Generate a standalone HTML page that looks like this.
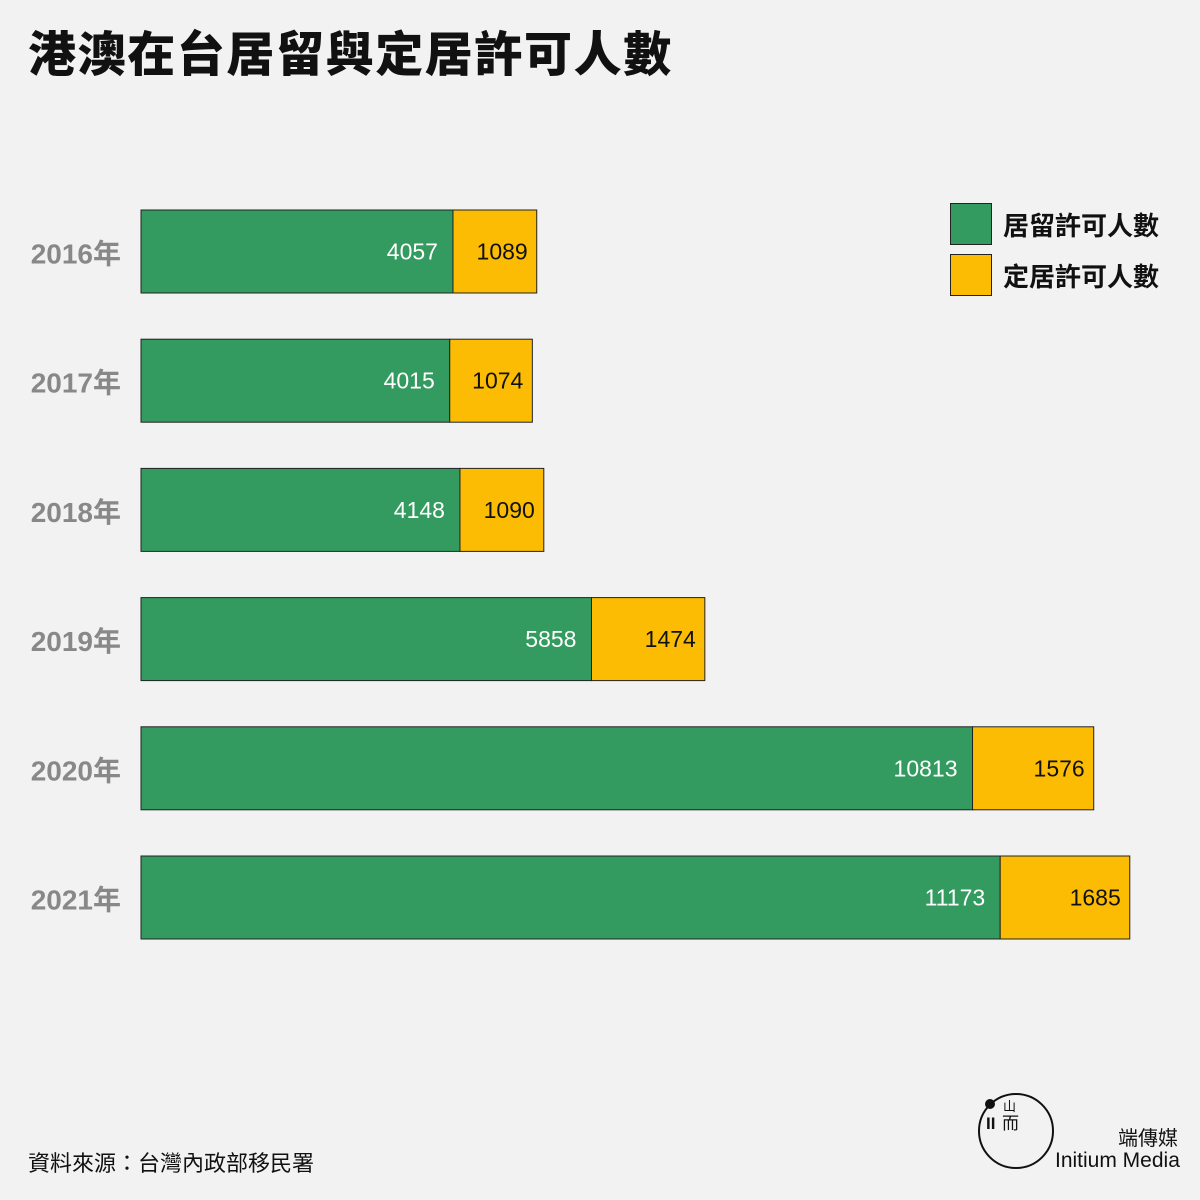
<!DOCTYPE html>
<html><head><meta charset="utf-8"><style>
body{margin:0;background:#f2f2f2;}
#c{position:relative;width:1200px;height:1200px;background:#f2f2f2;font-family:"Liberation Sans","Noto Sans CJK TC",sans-serif;}
.t{position:absolute;white-space:nowrap;}
</style></head><body>
<div id="c">
<div class="t" style="left:28px;top:15px;font-size:48px;font-weight:900;color:#111;letter-spacing:1.6px">港澳在台居留與定居許可人數</div>
<div style="position:absolute;left:950px;top:203px;width:40px;height:40px;background:#339b5f;border:1px solid #222"></div>
<div class="t" style="left:1003px;top:206px;font-size:26px;font-weight:bold;color:#111">居留許可人數</div>
<div style="position:absolute;left:950px;top:254px;width:40px;height:40px;background:#fbbc03;border:1px solid #222"></div>
<div class="t" style="left:1003px;top:257px;font-size:26px;font-weight:bold;color:#111">定居許可人數</div>
<svg id="s" width="1200" height="1200" style="position:absolute;left:0;top:0"></svg>
<div class="t" style="left:28px;top:1146px;font-size:22px;color:#111">資料來源：台灣內政部移民署</div>
<svg width="80" height="80" style="position:absolute;left:976px;top:1091px">
<circle cx="40" cy="40" r="37" fill="none" stroke="#111" stroke-width="2"/>
<circle cx="14" cy="13" r="5" fill="#111"/>
<text x="10" y="38" font-size="17" font-weight="bold" font-family="Liberation Sans" fill="#111">II</text>
<text x="26" y="38" font-size="17" font-family="Noto Sans CJK TC" fill="#111">而</text>
<text x="27" y="20" font-size="13" font-family="Noto Sans CJK TC" fill="#111">山</text>
</svg>
<div class="t" style="left:1118px;top:1122px;font-size:20px;color:#111">端傳媒</div>
<div class="t" style="left:1055px;top:1149px;font-size:21px;color:#111">Initium Media</div>
</div>
<script>
const years=["2016年","2017年","2018年","2019年","2020年","2021年"];
const residence=[4057,4015,4148,5858,10813,11173];
const settlement=[1089,1074,1090,1474,1576,1685];
const x0=141,k=0.0769,y0=210,step=129.2,bh=83;
const xs=v=>x0+v*k;
const ys=i=>y0+i*step;
const svg=document.getElementById('s');
const NS='http://www.w3.org/2000/svg';
function mk(t,a){const e=document.createElementNS(NS,t);for(const n in a)e.setAttribute(n,a[n]);svg.appendChild(e);return e;}
years.forEach((yr,i)=>{
 const y=ys(i),g=xs(residence[i]),e=xs(residence[i]+settlement[i]);
 const r1=mk('rect',{x:x0,y:y,width:g-x0,height:bh,fill:'#339b5f',stroke:'#222','stroke-width':1});
 
 
 const r2=mk('rect',{x:g,y:y,width:e-g,height:bh,fill:'#fbbc03',stroke:'#222','stroke-width':1});
 
 
 const t1=mk('text',{x:g-15,y:y+bh/2+8,'text-anchor':'end','font-size':23,fill:'#fff','font-family':'Liberation Sans'});
 t1.textContent=residence[i];
 
 
 const t2=mk('text',{x:e-9,y:y+bh/2+8,'text-anchor':'end','font-size':23,fill:'#111','font-family':'Liberation Sans'});
 t2.textContent=settlement[i];
 
 
 const t3=mk('text',{x:121,y:y+bh/2+12,'text-anchor':'end','font-size':28,'font-weight':'bold',fill:'#888','font-family':'Liberation Sans, Noto Sans CJK TC, sans-serif'});
 t3.textContent=yr;
 
 
});
</script>
</body></html>
